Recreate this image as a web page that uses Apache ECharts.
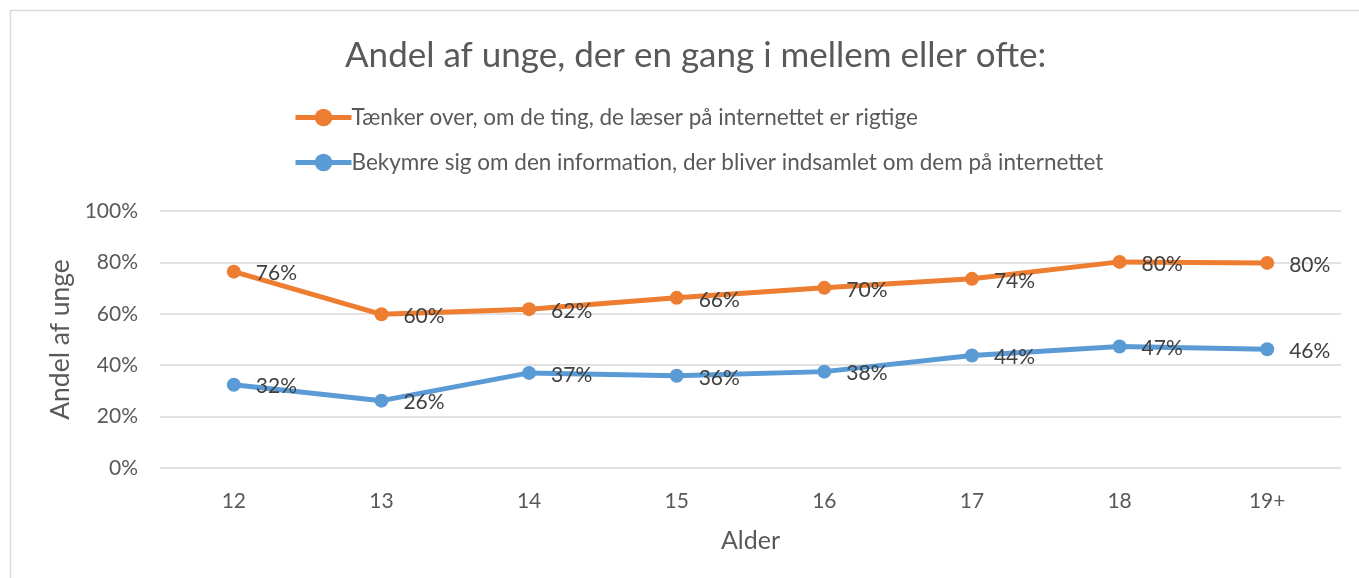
<!DOCTYPE html>
<html>
<head>
<meta charset="utf-8">
<script src="https://cdn.jsdelivr.net/npm/echarts@6/dist/echarts.min.js"></script>
<style>
  html, body { margin: 0; padding: 0; background: #fff; }
  #chart { width: 1359px; height: 578px; }
</style>
</head>
<body>
<div id="chart"></div>
<script>
// aldersgrupper
const ages = ['12', '13', '14', '15', '16', '17', '18', '19+']
// andel i procent
const thinksAbout = [76.4, 59.8, 61.8, 66.2, 70.1, 73.6, 80.2, 79.8]
const worriesAbout = [32.4, 26.2, 37.0, 35.9, 37.5, 43.8, 47.3, 46.2]
const seriesNames = [
  'Tænker over, om de ting, de læser på internettet er rigtige',
  'Bekymre sig om den information, der bliver indsamlet om dem på internettet'
]

const font = 'Lato'
const textColor = '#595959'

const chart = echarts.init(document.getElementById('chart'))

const makeSeries = (name, data, color) => ({
  name: name,
  type: 'line',
  data: data,
  symbol: 'circle',
  symbolSize: 14,
  lineStyle: { width: 5, color: color },
  itemStyle: { color: color },
  label: {
    show: true,
    position: 'right',
    distance: 15,
    offset: [0, 2],
    color: '#404040',
    fontFamily: font,
    fontSize: 21,
    formatter: p => Math.round(p.value) + '%'
  },
  z: 3
})

const option = {
  animation: false,
  textStyle: { fontFamily: font },
  title: {
    text: 'Andel af unge, der en gang i mellem eller ofte:',
    left: 340,
    top: 33,
    textStyle: { fontFamily: font, fontSize: 35, fontWeight: 'normal', color: textColor }
  },
  legend: {
    orient: 'vertical',
    left: 288,
    top: 101,
    itemGap: 22,
    itemWidth: 56,
    itemHeight: 22,
    lineStyle: { width: 5 },
    textStyle: { fontFamily: font, fontSize: 22.5, color: textColor, padding: [0, 0, 0, -5] },
    data: seriesNames
  },
  graphic: [{
    type: 'rect',
    shape: { x: 10.5, y: 10.5, width: 1400, height: 700 },
    style: { fill: 'none', stroke: '#d9d9d9', lineWidth: 1.5 },
    silent: true
  }],
  grid: {
    left: 160,
    right: 18,
    top: 211,
    bottom: 110
  },
  xAxis: {
    type: 'category',
    data: ages,
    boundaryGap: true,
    name: 'Alder',
    nameLocation: 'middle',
    nameGap: 60,
    nameTextStyle: { fontFamily: font, fontSize: 25, color: textColor },
    axisLine: { show: false },
    axisTick: { show: false },
    axisLabel: { fontFamily: font, fontSize: 21, color: textColor, margin: 23 }
  },
  yAxis: {
    type: 'value',
    min: 0,
    max: 100,
    interval: 20,
    name: 'Andel af unge',
    nameLocation: 'middle',
    nameGap: 86,
    nameTextStyle: { fontFamily: font, fontSize: 26.5, color: textColor },
    axisLine: { show: false },
    axisTick: { show: false },
    axisLabel: {
      fontFamily: font, fontSize: 21, color: textColor, margin: 22,
      formatter: v => v + '%'
    },
    splitLine: { lineStyle: { color: '#d9d9d9', width: 1.5 } }
  },
  series: [
    makeSeries(seriesNames[0], thinksAbout, '#ED7D31'),
    makeSeries(seriesNames[1], worriesAbout, '#5B9BD5')
  ]
}

chart.setOption(option)
</script>
</body>
</html>
